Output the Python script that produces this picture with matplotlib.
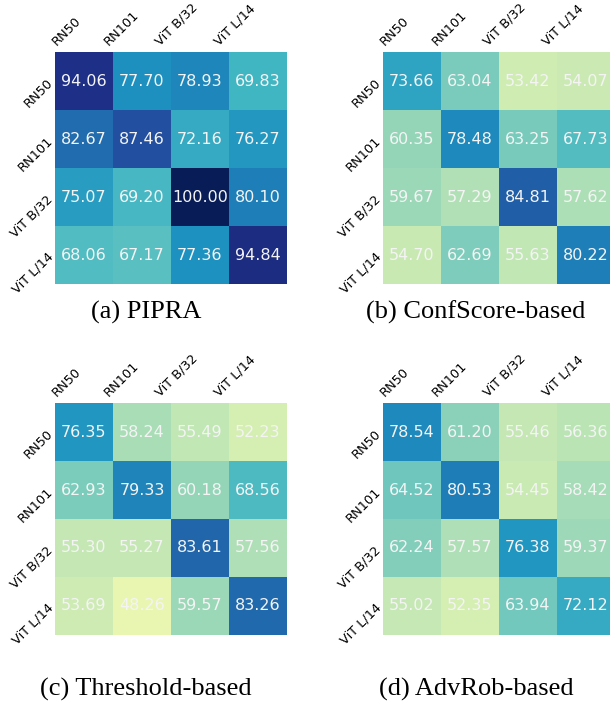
import numpy as np
import matplotlib
matplotlib.use("Agg")
import matplotlib.pyplot as plt

models = ["RN50", "RN101", "ViT B/32", "ViT L/14"]

pipra = [[94.06, 77.70, 78.93, 69.83],
         [82.67, 87.46, 72.16, 76.27],
         [75.07, 69.20, 100.00, 80.10],
         [68.06, 67.17, 77.36, 94.84]]
confscore = [[73.66, 63.04, 53.42, 54.07],
             [60.35, 78.48, 63.25, 67.73],
             [59.67, 57.29, 84.81, 57.62],
             [54.70, 62.69, 55.63, 80.22]]
threshold = [[76.35, 58.24, 55.49, 52.23],
             [62.93, 79.33, 60.18, 68.56],
             [55.30, 55.27, 83.61, 57.56],
             [53.69, 48.26, 59.57, 83.26]]
advrob = [[78.54, 61.20, 55.46, 56.36],
          [64.52, 80.53, 54.45, 58.42],
          [62.24, 57.57, 76.38, 59.37],
          [55.02, 52.35, 63.94, 72.12]]

captions = ["(a) PIPRA", "(b) ConfScore-based", "(c) Threshold-based", "(d) AdvRob-based"]
panels = [pipra, confscore, threshold, advrob]

VMIN, VMAX = 40, 100

fig = plt.figure(figsize=(6.10, 7.03), dpi=100)
W, H = 610, 703
lefts = [55, 383, 55, 383]
tops = [52, 52, 403, 403]
size = 232
cap_x = [146, 476, 146, 476]
cap_y = [312, 312, 689, 689]

for k, data in enumerate(panels):
    arr = np.array(data)
    ax = fig.add_axes([lefts[k] / W, 1 - (tops[k] + size) / H, size / W, size / H])
    ax.imshow(arr, cmap="YlGnBu", vmin=VMIN, vmax=VMAX, aspect="auto",
              extent=(0, 4, 4, 0), interpolation="nearest")
    for i in range(4):
        for j in range(4):
            ax.text(j + 0.5, i + 0.5, f"{arr[i, j]:.2f}", ha="center", va="center",
                    color="#f4f4f4", fontsize=11.5, family="DejaVu Sans")
    ax.set_xlim(0, 4)
    ax.set_ylim(4, 0)
    ax.xaxis.tick_top()
    ax.set_xticks(np.arange(4) + 0.5)
    ax.set_yticks(np.arange(4) + 0.5)
    ax.set_xticklabels(models, rotation=45, ha="right", fontsize=9.3)
    ax.set_yticklabels(models, rotation=45, ha="right", va="center",
                       rotation_mode="anchor", fontsize=9.3)
    ax.tick_params(length=0, pad=3)
    for s in ax.spines.values():
        s.set_visible(False)
    fig.text(cap_x[k] / W, 1 - cap_y[k] / H, captions[k], ha="center", va="center",
             fontsize=19, family="Liberation Serif")

fig.savefig("out.png", dpi=100)
